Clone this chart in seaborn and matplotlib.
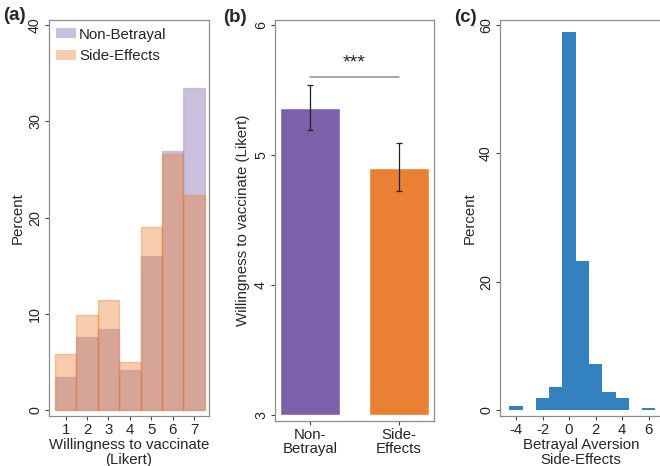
import numpy as np
import pandas as pd
import seaborn as sns
import matplotlib.pyplot as plt
from matplotlib.colors import to_rgba
from matplotlib.patches import Patch

# panel (a): distribution of Likert answers, percent per group
likert = [1, 2, 3, 4, 5, 6, 7]
pct_non_betrayal = [3.5, 7.6, 8.4, 4.2, 16.0, 26.9, 33.4]
pct_side_effects = [5.8, 9.9, 11.4, 5.0, 19.0, 26.6, 22.3]

# panel (b): mean willingness with 95% CI
groups = ['Non-\nBetrayal', 'Side-\nEffects']
means = [5.36, 4.90]
ci_low = [5.19, 4.72]
ci_high = [5.54, 5.09]

# panel (c): betrayal aversion (difference), percent
aversion = [-4, -2, -1, 0, 1, 2, 3, 4, 6]
pct_aversion = [0.6, 1.8, 3.6, 59.0, 23.3, 7.2, 2.8, 1.8, 0.3]

purple = '#7b61a9'
orange = '#e98033'
blue = '#3381be'
frame = '#8c8c8c'

sns.set_style('white')
plt.rcParams['font.family'] = ['Liberation Sans', 'DejaVu Sans']
plt.rcParams['font.size'] = 10.8

fig = plt.figure(figsize=(6.6, 4.66), dpi=100)
ax_a = fig.add_axes([0.0742, 0.107, 0.2425, 0.850])
ax_b = fig.add_axes([0.4167, 0.097, 0.2409, 0.860])
ax_c = fig.add_axes([0.7576, 0.108, 0.2455, 0.849])


def style_axes(ax):
    for s in ax.spines.values():
        s.set_color(frame)
        s.set_linewidth(0.9)
    ax.tick_params(axis='both', which='both', direction='out', length=3, width=0.8,
                   color='#444444', pad=2, labelsize=10.8, left=True, bottom=True)
    ax.tick_params(axis='y', labelsize=10.3)
    for lab in ax.get_yticklabels():
        lab.set_rotation(90)
        lab.set_va('center')


# ---- (a)
sns.histplot(x=likert, weights=pct_non_betrayal, discrete=True, stat='count',
             facecolor=to_rgba(purple, 0.4), edgecolor=to_rgba(purple, 0.25),
             linewidth=1, ax=ax_a)
sns.histplot(x=likert, weights=pct_side_effects, discrete=True, stat='count',
             facecolor=to_rgba(orange, 0.4), edgecolor=to_rgba(orange, 0.4),
             linewidth=1, ax=ax_a)
ax_a.set_xlim(0.22, 7.7)
ax_a.set_ylim(-0.6, 40.5)
ax_a.set_xticks(likert)
ax_a.set_yticks([0, 10, 20, 30, 40])
ax_a.set_ylabel('Percent', labelpad=2)
ax_a.set_xlabel('Willingness to vaccinate\n(Likert)', labelpad=1, linespacing=1.05)
handles = [Patch(facecolor=purple, alpha=0.4, edgecolor='none', label='Non-Betrayal'),
           Patch(facecolor=orange, alpha=0.4, edgecolor='none', label='Side-Effects')]
ax_a.legend(handles=handles, loc='upper left', frameon=False, fontsize=10.8,
            handlelength=1.3, handleheight=0.6, handletextpad=0.2, labelspacing=0.5,
            borderaxespad=0.1, bbox_to_anchor=(0.0, 1.0))
style_axes(ax_a)

# ---- (b)
sns.barplot(x=groups, y=means, hue=groups, palette=[purple, orange], legend=False,
            width=0.67, saturation=1, ax=ax_b)
base = 3
for p in ax_b.patches:
    p.set_y(base)
    p.set_height(p.get_height() - base)
yerr = [np.array(means) - np.array(ci_low), np.array(ci_high) - np.array(means)]
ax_b.errorbar(x=[0, 1], y=means, yerr=yerr, fmt='none', ecolor='#222222',
              elinewidth=0.9, capsize=2.5, capthick=0.9)
ax_b.plot([0, 1], [5.60, 5.60], color='#8f8f8f', lw=1.1)
ax_b.text(0.5, 5.71, '***', ha='center', va='center', fontsize=14)
ax_b.set_xlim(-0.39, 1.39)
ax_b.set_ylim(2.954, 6.04)
ax_b.set_yticks([3, 4, 5, 6])
ax_b.set_ylabel('Willingness to vaccinate (Likert)', labelpad=3)
ax_b.set_xlabel('')
style_axes(ax_b)
for lab in ax_b.get_xticklabels():
    lab.set_linespacing(1.05)

# ---- (c)
sns.histplot(x=aversion, weights=pct_aversion, discrete=True, stat='count', color=blue,
             alpha=1, linewidth=0, ax=ax_c)
ax_c.set_xlim(-5.2, 7.0)
ax_c.set_ylim(-0.89, 60.8)
ax_c.set_xticks([-4, -2, 0, 2, 4, 6])
ax_c.set_xticklabels(['-4', '-2', '0', '2', '4', '6'])
ax_c.set_yticks([0, 20, 40, 60])
ax_c.set_ylabel('Percent', labelpad=2)
ax_c.set_xlabel('Betrayal Aversion\nSide-Effects', labelpad=1, linespacing=1.05)
style_axes(ax_c)

fig.text(0.004, 0.966, '(a)', fontsize=13.5, fontweight='bold', va='center')
fig.text(0.338, 0.963, '(b)', fontsize=13.5, fontweight='bold', va='center')
fig.text(0.688, 0.962, '(c)', fontsize=13.5, fontweight='bold', va='center')

fig.savefig('out.png', dpi=100)
